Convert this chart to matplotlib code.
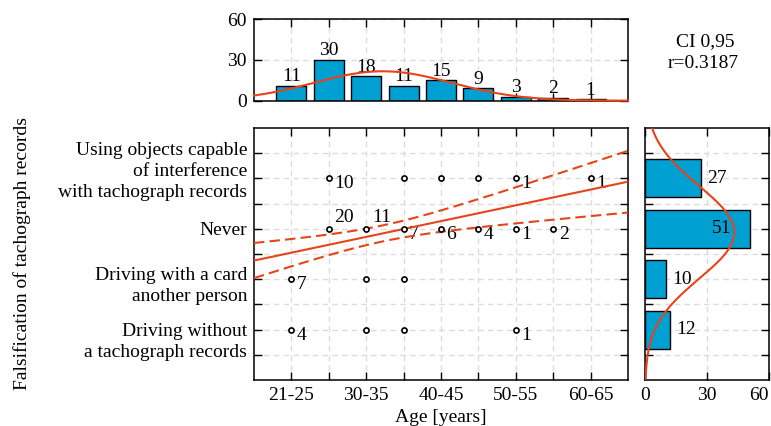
import numpy as np
import matplotlib
matplotlib.use("Agg")
import matplotlib.pyplot as plt
from matplotlib.transforms import ScaledTranslation

plt.rcParams['font.family'] = ['Liberation Serif', 'DejaVu Serif']
plt.rcParams['font.size'] = 14

# age groups (top histogram)
age_pos = [1, 2, 3, 4, 5, 6, 7, 8, 9]
age_counts = [11, 30, 18, 11, 15, 9, 3, 2, 1]
age_tick_pos = [1, 3, 5, 7, 9]
age_tick_labels = ['21-25', '30-35', '40-45', '50-55', '60-65']

# falsification categories (right histogram)
cat_pos = [2, 4, 6, 8]
cat_labels = ['Driving without\na tachograph records',
              'Driving with a card\nanother person',
              'Never',
              'Using objects capable\nof interference\nwith tachograph records']
cat_counts = [12, 10, 51, 27]

# scatter points: age position, category position, count label
pt_x = [2, 4, 5, 6, 7, 9, 2, 3, 4, 5, 6, 7, 8, 1, 3, 4, 1, 3, 4, 7]
pt_y = [8, 8, 8, 8, 8, 8, 6, 6, 6, 6, 6, 6, 6, 4, 4, 4, 2, 2, 2, 2]
pt_text = ['10', '', '', '', '1', '1',
           '20', '11', '7', '6', '4', '1', '2',
           '7', '', '',
           '4', '', '', '1']

# regression line and 95% confidence band
fit_b0 = 4.74
fit_b1 = 0.313
ci_a = 0.101
ci_b = 0.0325
r_value = 0.3187

blue = '#00a0d2'
red = '#e64419'
gridc = '#dcdcdc'

W, H = 771, 426
fig = plt.figure(figsize=(W / 100, H / 100), dpi=100)


def box(l, t, r, b):
    return [l / W, 1 - b / H, (r - l) / W, (b - t) / H]


ax = fig.add_axes(box(254, 128, 628, 380))
axt = fig.add_axes(box(254, 19, 628, 100.7))
axr = fig.add_axes(box(645, 128, 768.5, 380))

for a in (ax, axt, axr):
    a.tick_params(direction='in', length=6, width=1, top=True, right=True, pad=5)
    a.grid(True, ls=(0, (4, 3)), color=gridc, lw=1)
    a.set_axisbelow(True)
    for s in a.spines.values():
        s.set_linewidth(1.1)

# ---- main scatter
ax.plot(pt_x, pt_y, 'o', mfc='white', mec='black', ms=3.7, mew=1.2, zorder=4)
for x, y, t in zip(pt_x, pt_y, pt_text):
    if not t:
        continue
    dy = 8 if (y == 6 and x < 4) else -4
    ax.annotate(t, (x, y), xytext=(4, dy), textcoords='offset points',
                ha='left', va='center')

xs = np.linspace(0, 10, 200)
xm = np.dot(age_pos, age_counts) / sum(age_counts)
yfit = fit_b0 + fit_b1 * xs
half = np.sqrt(ci_a + ci_b * (xs - xm) ** 2)
ax.plot(xs, yfit, color=red, lw=1.5, zorder=3)
ax.plot(xs, yfit + half, color=red, lw=1.5, ls=(0, (5, 2.5)), zorder=3)
ax.plot(xs, yfit - half, color=red, lw=1.5, ls=(0, (5, 2.5)), zorder=3)

ax.set_xlim(0, 10)
ax.set_ylim(0, 10)
ax.set_xticks(range(1, 10))
ax.set_xticklabels([age_tick_labels[age_tick_pos.index(i)] if i in age_tick_pos else ''
                    for i in range(1, 10)])
ax.set_yticks(range(1, 10))
ax.set_yticklabels([cat_labels[cat_pos.index(i)] if i in cat_pos else ''
                    for i in range(1, 10)], linespacing=1.32)
shift = {2: -6, 4: -2, 6: 0, 8: 8}
for i, lab in zip(range(1, 10), ax.get_yticklabels()):
    if i in shift:
        lab.set_transform(lab.get_transform() +
                          ScaledTranslation(0, shift[i] / 72, fig.dpi_scale_trans))
ax.set_xlabel('Age [years]', labelpad=4)
fig.text(22 / W, 1 - 253.5 / H, 'Falsification of tachograph records',
         rotation=90, ha='center', va='center')

# ---- top histogram
axt.bar(age_pos, age_counts, width=0.8, color=blue, edgecolor='black', lw=1, zorder=2)
for x, c in zip(age_pos, age_counts):
    axt.annotate(str(c), (x, c), xytext=(0, 6.5), textcoords='offset points',
                 ha='center', va='center')
n_age = sum(age_counts)
sd_age = np.sqrt(np.dot(age_counts, (np.array(age_pos) - xm) ** 2) / n_age)
axt.plot(xs, n_age / (sd_age * np.sqrt(2 * np.pi)) * np.exp(-(xs - xm) ** 2 / (2 * sd_age ** 2)),
         color=red, lw=1.5, zorder=3, clip_on=False)
axt.set_xlim(0, 10)
axt.set_ylim(0, 60)
axt.set_xticks(range(1, 10))
axt.set_xticklabels([])
axt.set_yticks([0, 30, 60])

# ---- right histogram
axr.barh(cat_pos, cat_counts, height=1.5, color=blue, edgecolor='black', lw=1, zorder=2)
for y, c in zip(cat_pos, cat_counts):
    lx = c + 3 if c < 40 else 32.5
    axr.text(lx, y, str(c), ha='left', va='center', zorder=4)
n_cat = sum(cat_counts)
ym = np.dot(cat_pos, cat_counts) / n_cat
sd_cat = np.sqrt(np.dot(cat_counts, (np.array(cat_pos) - ym) ** 2) / n_cat)
ys = np.linspace(0, 10, 200)
axr.plot(2 * n_cat / (sd_cat * np.sqrt(2 * np.pi)) * np.exp(-(ys - ym) ** 2 / (2 * sd_cat ** 2)),
         ys, color=red, lw=1.5, zorder=3)
axr.set_xlim(0, 60)
axr.set_ylim(0, 10)
axr.set_xticks([0, 30, 60])
axr.set_yticks(range(1, 10))
axr.set_yticklabels([])
axr.get_xticklabels()[-1].set_ha('right')

fig.text(705 / W, 1 - 42 / H, 'CI 0,95', ha='center', va='center')
fig.text(703 / W, 1 - 63 / H, 'r=%.4f' % r_value, ha='center', va='center')

fig.savefig('out.png', dpi=100)
